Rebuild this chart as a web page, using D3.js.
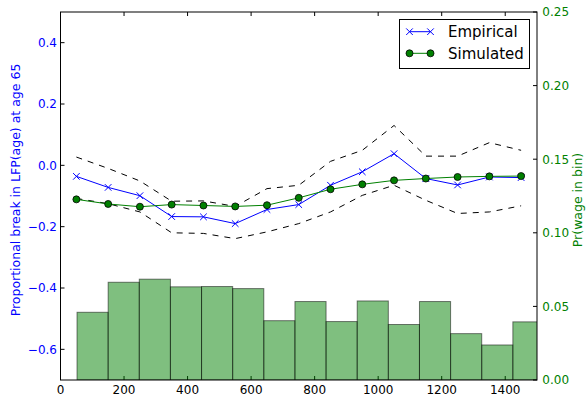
<!DOCTYPE html>
<html>
<head>
<meta charset="utf-8">
<script src="https://cdn.jsdelivr.net/npm/d3@7"></script>
<style>
  html, body { margin: 0; padding: 0; background: #fff; }
  svg { display: block; font-family: "DejaVu Sans", sans-serif; }
</style>
</head>
<body>
<svg id="chart" width="586" height="400"></svg>
<script>
// ---- data ----
const wageX = [50, 150, 250, 350, 450, 550, 650, 750, 850, 950, 1050, 1150, 1250, 1350, 1450];
const empirical = [-0.036, -0.072, -0.099, -0.167, -0.168, -0.190, -0.144, -0.128, -0.065, -0.021, 0.038, -0.043, -0.064, -0.038, -0.040];
const simulated = [-0.111, -0.126, -0.135, -0.128, -0.131, -0.134, -0.130, -0.106, -0.078, -0.062, -0.049, -0.043, -0.038, -0.036, -0.035];
const upperBand = [0.027, -0.010, -0.051, -0.117, -0.116, -0.134, -0.076, -0.065, 0.013, 0.049, 0.130, 0.030, 0.030, 0.074, 0.049];
const lowerBand = [-0.108, -0.125, -0.152, -0.220, -0.222, -0.239, -0.217, -0.190, -0.152, -0.098, -0.065, -0.114, -0.157, -0.152, -0.132];
const binEdges = [52, 150, 248, 346, 444, 542, 640, 738, 836, 934, 1032, 1130, 1228, 1326, 1424, 1522];
const binShare = [0.046, 0.0664, 0.0685, 0.0633, 0.0635, 0.0621, 0.0403, 0.0533, 0.0397, 0.0537, 0.0377, 0.0533, 0.0315, 0.0238, 0.0395];
const xTicks = [0, 200, 400, 600, 800, 1000, 1200, 1400];
const yLeftTicks = [-0.6, -0.4, -0.2, 0.0, 0.2, 0.4];
const yRightTicks = [0.00, 0.05, 0.10, 0.15, 0.20, 0.25];
const labels = {
  left: "Proportional break in LFP(age) at age 65",
  right: "Pr(wage in bin)",
  empirical: "Empirical",
  simulated: "Simulated"
};

// ---- layout ----
const L = 60.5, R = 537, T = 12, B = 380;
const svg = d3.select("#chart");
const x = d3.scaleLinear().domain([0, 1500]).range([L, R]);
const yL = d3.scaleLinear().domain([-0.7, 0.5]).range([B, T]);
const yR = d3.scaleLinear().domain([0, 0.25]).range([B, T]);
const BLUE = "#0000ff", GREEN = "#008000";

svg.append("defs").append("clipPath").attr("id", "clip")
  .append("rect").attr("x", L).attr("y", T).attr("width", R - L).attr("height", B - T);

// ---- ticks (ax1) ----
const tl = 4;
const tickG = svg.append("g").attr("stroke", "#000").attr("stroke-width", 1);
xTicks.forEach(v => {
  const px = x(v);
  tickG.append("line").attr("x1", px).attr("x2", px).attr("y1", B).attr("y2", B - tl);
  tickG.append("line").attr("x1", px).attr("x2", px).attr("y1", T).attr("y2", T + tl);
});
yLeftTicks.forEach(v => {
  tickG.append("line").attr("x1", L).attr("x2", L + tl).attr("y1", yL(v)).attr("y2", yL(v));
});

// x tick labels
svg.append("g").selectAll("text").data(xTicks).join("text")
  .attr("x", d => x(d)).attr("y", 393.5)
  .attr("text-anchor", "middle").attr("font-size", 12).attr("fill", "#000")
  .text(d => d);

// left tick labels
const fmtL = d3.format(".1f");
svg.append("g").selectAll("text").data(yLeftTicks).join("text")
  .attr("x", L - 3.5).attr("y", d => yL(d) + 4.3)
  .attr("text-anchor", "end").attr("font-size", 12).attr("fill", BLUE)
  .text(d => fmtL(d));

// left axis label
svg.append("text")
  .attr("transform", `translate(19.5,${(T + B) / 2 - 6}) rotate(-90)`)
  .attr("text-anchor", "middle").attr("font-size", 12.5).attr("fill", BLUE)
  .text(labels.left);

// ---- lines (ax1) ----
const plot = svg.append("g").attr("clip-path", "url(#clip)");
const line = d3.line().x((d, i) => x(wageX[i])).y(d => yL(d));

[upperBand, lowerBand].forEach(arr => {
  plot.append("path").attr("d", line(arr))
    .attr("fill", "none").attr("stroke", "#000").attr("stroke-width", 1)
    .attr("stroke-dasharray", "6,6");
});

plot.append("path").attr("d", line(empirical))
  .attr("fill", "none").attr("stroke", BLUE).attr("stroke-width", 1);
const xm = 3.3;
function xMark(g, cx, cy) {
  g.append("path")
    .attr("d", `M${cx - xm},${cy - xm}L${cx + xm},${cy + xm}M${cx - xm},${cy + xm}L${cx + xm},${cy - xm}`)
    .attr("stroke", BLUE).attr("stroke-width", 1).attr("fill", "none");
}
empirical.forEach((v, i) => xMark(plot, x(wageX[i]), yL(v)));

plot.append("path").attr("d", line(simulated))
  .attr("fill", "none").attr("stroke", GREEN).attr("stroke-width", 1);
plot.selectAll("circle.sim").data(simulated).join("circle")
  .attr("class", "sim")
  .attr("cx", (d, i) => x(wageX[i])).attr("cy", d => yL(d)).attr("r", 3.5)
  .attr("fill", GREEN).attr("stroke", "#000").attr("stroke-width", 0.8);

// ---- legend ----
const lg = svg.append("g");
lg.append("rect").attr("x", 399.5).attr("y", 19.5).attr("width", 130).attr("height", 49)
  .attr("fill", "#fff").attr("stroke", "#000").attr("stroke-width", 1);
const ly1 = 31.7, ly2 = 53.3, lx1 = 409.5, lx2 = 430.5;
lg.append("line").attr("x1", lx1).attr("x2", lx2).attr("y1", ly1).attr("y2", ly1)
  .attr("stroke", BLUE).attr("stroke-width", 1);
xMark(lg, lx1, ly1); xMark(lg, lx2, ly1);
lg.append("text").attr("x", 448).attr("y", ly1 + 5.5).attr("font-size", 15).attr("fill", "#000").text(labels.empirical);
lg.append("line").attr("x1", lx1).attr("x2", lx2).attr("y1", ly2).attr("y2", ly2)
  .attr("stroke", GREEN).attr("stroke-width", 1);
[lx1, lx2].forEach(cx => lg.append("circle").attr("cx", cx).attr("cy", ly2).attr("r", 3.5)
  .attr("fill", GREEN).attr("stroke", "#000").attr("stroke-width", 0.8));
lg.append("text").attr("x", 448).attr("y", ly2 + 5.5).attr("font-size", 15).attr("fill", "#000").text(labels.simulated);

// ---- histogram (ax2) ----
const hist = svg.append("g").attr("clip-path", "url(#clip)");
hist.selectAll("rect").data(binShare).join("rect")
  .attr("x", (d, i) => x(binEdges[i]))
  .attr("width", (d, i) => x(binEdges[i + 1]) - x(binEdges[i]))
  .attr("y", d => yR(d))
  .attr("height", d => yR(0) - yR(d))
  .attr("fill", GREEN).attr("fill-opacity", 0.5)
  .attr("stroke", "#000").attr("stroke-opacity", 0.5).attr("stroke-width", 1);

// right ticks
const tickR = svg.append("g").attr("stroke", "#000").attr("stroke-width", 1);
yRightTicks.forEach(v => {
  tickR.append("line").attr("x1", R).attr("x2", R - tl).attr("y1", yR(v)).attr("y2", yR(v));
});
const fmtR = d3.format(".2f");
svg.append("g").selectAll("text").data(yRightTicks).join("text")
  .attr("x", R + 5.3).attr("y", d => yR(d) + 4.3)
  .attr("text-anchor", "start").attr("font-size", 12).attr("fill", GREEN)
  .text(d => fmtR(d));

svg.append("text")
  .attr("transform", `translate(582,${(T + B) / 2 + 4}) rotate(-90)`)
  .attr("text-anchor", "middle").attr("font-size", 12.5).attr("fill", GREEN)
  .text(labels.right);

// ---- spines ----
svg.append("rect").attr("x", L).attr("y", T).attr("width", R - L).attr("height", B - T)
  .attr("fill", "none").attr("stroke", "#000").attr("stroke-width", 1);
</script>
</body>
</html>
